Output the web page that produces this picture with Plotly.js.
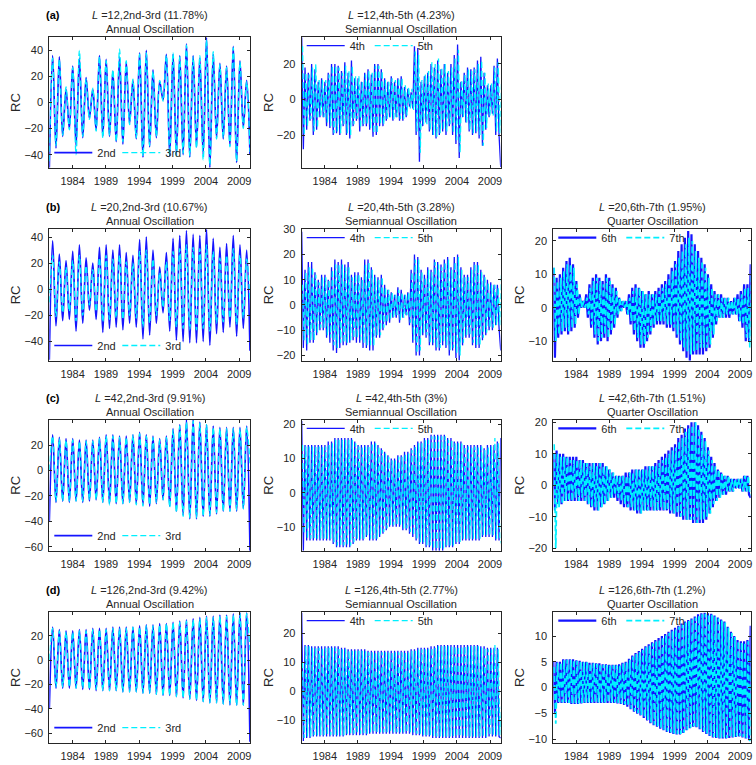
<!DOCTYPE html>
<html><head><meta charset="utf-8">
<script src="https://cdn.plot.ly/plotly-3.0.1.min.js"></script>
<style>html,body{margin:0;padding:0;background:#fff;}#chart{width:756px;height:765px;}</style>
</head><body><div id="chart"></div>
<script>
// ---------------- DATA ----------------
// time span of the reconstructed components (years) and x tick labels
const tStart = 1980.5, tEnd = 2010.62;
const xTicks = [1984, 1989, 1994, 1999, 2004, 2009];

// Successive extremes (half-cycle turning points)
// ---- L = 12 ----
const rc2_L12 = [
-50, 36, -35, 35, -26, 10, -20, 28, -33, 34,
-27, 19, -12, 10, -21, 36, -26, 33, -26, 24,
-30, 35, -32, 31, -16, 17, -28, 38, -42, 40,
-34, 25, -27, 16, 2, 37, -41, 37, -40, 36,
-40, 45, -42, 36, -34, 34, -40, 50, -50, 37,
-27, 30, -28, 28, -33, 43, -46, 32, -19, 17,
-40];
const rc3_L12 = [
-45, 34, -33, 33, -25, 12, -21, 27, -40, 40,
-26, 18, -13, 11, -22, 35, -27, 32, -25, 25,
-30, 41, -30, 32, -17, 18, -27, 37, -41, 38,
-33, 24, -26, 17, 1, 36, -40, 38, -41, 35,
-39, 44, -41, 35, -35, 36, -44, 48, -48, 39,
-28, 29, -27, 27, -34, 42, -45, 31, -20, 16,
-38];
const rc4_L12 = [
35, -28, 18, -17, 15, -12, 20, -20, 17, -17,
10, -10, 12, -10, 10, -15, 15, -16, 20, -20,
20, -19, 19, -20, 16, -15, 21, -20, 15, -22,
22, -15, 12, -12, 12, -18, 10, -15, 15, -15,
17, -17, 14, -21, 20, -20, 20, -15, 17, -15,
12, -12, 10, -10, 13, -12, 10, -10, 12, -12,
13, -12, 7, -10, 6, -4, 4, -5, 30, -20,
29, -35, 10, -15, 13, -13, 15, -18, 20, -20,
18, -22, 22, -20, 17, -18, 20, -20, 15, -15,
20, -20, 25, -25, 31, -33, 10, -10, 15, -13,
18, -18, 17, -20, 18, -19, 22, -22, 24, -26,
15, -17, 8, -10, 8, -8, 19, -20, 23, -20,
-38];
const rc5_L12 = [
30, -20, 15, -15, 14, -11, 18, -18, 20, -16,
11, -9, 11, -10, 11, -13, 14, -15, 19, -19,
19, -18, 18, -19, 15, -14, 19, -19, 16, -20,
19, -14, 13, -11, 13, -16, 10, -14, 14, -14,
16, -16, 15, -19, 19, -19, 19, -14, 16, -14,
11, -11, 10, -10, 12, -11, 11, -10, 12, -11,
12, -11, 8, -9, 7, -5, 6, -6, 27, -18,
25, -30, 11, -14, 14, -14, 16, -17, 21, -20,
20, -21, 23, -19, 18, -17, 20, -18, 16, -14,
18, -19, 23, -23, 28, -30, 11, -10, 14, -13,
17, -17, 16, -19, 17, -18, 20, -20, 22, -26,
15, -16, 9, -9, 9, -9, 18, -18, 21, -19,
10];
// ---- L = 20 ----
const rc2_L20 = [
-54, 37, -28, 27, -24, 22, -23, 29, -32, 34,
-26, 24, -16, 20, -23, 32, -33, 34, -30, 30,
-29, 34, -31, 28, -26, 26, -29, 38, -38, 40,
-35, 30, -26, 17, -18, 28, -32, 39, -39, 41,
-40, 45, -41, 42, -41, 41, -40, 46, -43, 39,
-34, 32, -33, 35, -29, 41, -36, 34, -30, 30,
-47];
const rc3_L20 = [
-10, 26, -21, 21, -18, 17, -17, 22, -24, 26,
-20, 18, -12, 15, -17, 24, -25, 26, -23, 23,
-22, 26, -23, 21, -20, 20, -22, 29, -29, 30,
-26, 23, -20, 13, -14, 21, -24, 29, -29, 31,
-30, 34, -31, 32, -31, 31, -30, 34, -32, 29,
-26, 24, -25, 26, -22, 31, -27, 26, -22, 23,
-10];
const rc4_L20 = [
29, -17, 14, -18, 17, -15, 17, -15, 13, -12,
10, -10, 12, -10, 12, -13, 10, -15, 15, -18,
18, -19, 17, -17, 18, -16, 16, -16, 17, -15,
12, -14, 13, -15, 13, -15, 11, -17, 18, -17,
18, -18, 15, -18, 12, -13, 11, -13, 12, -10,
8, -8, 6, -7, 5, -5, 4, -5, 7, -7,
6, -5, 4, -4, 5, -8, 14, -15, 20, -20,
19, -20, 14, -12, 12, -13, 15, -16, 14, -16,
18, -18, 17, -18, 16, -16, 18, -17, 19, -20,
15, -18, 19, -21, 20, -22, 15, -16, 12, -13,
12, -13, 15, -16, 17, -17, 17, -17, 14, -14,
12, -12, 10, -10, 9, -10, 8, -8, 8, -9,
-18];
const rc5_L20 = [
8, -14, 13, -16, 15, -14, 15, -14, 12, -11,
9, -9, 11, -9, 11, -12, 10, -13, 14, -16,
16, -17, 16, -15, 16, -15, 15, -15, 15, -14,
11, -13, 12, -13, 12, -14, 10, -15, 16, -16,
17, -16, 14, -16, 11, -12, 10, -12, 11, -9,
7, -7, 6, -6, 5, -5, 4, -4, 6, -6,
5, -5, 4, -4, 5, -7, 13, -14, 18, -19,
18, -18, 13, -11, 11, -12, 14, -15, 13, -15,
17, -17, 16, -17, 15, -15, 17, -16, 18, -18,
14, -17, 17, -19, 19, -20, 14, -15, 11, -12,
11, -12, 14, -15, 16, -16, 16, -16, 13, -13,
11, -11, 9, -9, 8, -9, 8, -8, 7, -8,
13];
const rc6_L20 = [
12, -15, 9, -9, 10, -8, 12, -7, 14, -8,
15, -7, 13, -6, 8, -3, 4, 0, 2, 0,
4, -3, 7, -6, 9, -9, 10, -11, 9, -10,
8, -9, 10, -10, 9, -8, 7, -6, 6, -3,
3, -1, 2, 0, 2, -2, 4, -5, 6, -8,
7, -10, 6, -12, 5, -12, 4, -10, 5, -8,
4, -6, 5, -5, 6, -5, 7, -5, 8, -6,
10, -6, 12, -7, 14, -9, 17, -11, 19, -13,
21, -15, 23, -16, 22, -14, 19, -14, 17, -14,
15, -14, 13, -13, 10, -12, 7, -9, 5, -5,
4, -3, 4, -3, 3, -3, 3, -3, 2, -2,
3, -2, 4, -4, 5, -6, 7, -10, 7, -10,
13];
const rc7_L20 = [
12, -10, 8, -8, 9, -7, 11, -6, 13, -7,
13, -6, 12, -5, 7, -2, 3, 0, 2, 0,
3, -2, 6, -5, 8, -8, 9, -10, 8, -9,
7, -8, 9, -9, 8, -7, 6, -5, 5, -2,
3, -1, 2, 0, 2, -2, 3, -4, 5, -7,
6, -9, 6, -11, 5, -11, 4, -9, 4, -7,
4, -5, 4, -4, 5, -4, 6, -4, 7, -5,
9, -5, 11, -6, 13, -8, 15, -10, 17, -12,
19, -13, 21, -14, 20, -13, 17, -13, 15, -12,
14, -12, 12, -12, 9, -11, 6, -8, 4, -4,
4, -3, 3, -3, 3, -2, 3, -2, 2, -2,
3, -2, 3, -4, 4, -5, 6, -9, 6, -12,
10];
// ---- L = 42 ----
const rc2_L42 = [
-40, 28, -25, 26, -24, 25, -25, 25, -24, 24,
-25, 24, -24, 24, -23, 26, -25, 28, -26, 28,
-26, 27, -26, 27, -25, 28, -26, 30, -27, 28,
-28, 27, -26, 25, -23, 27, -28, 33, -32, 36,
-35, 40, -38, 40, -38, 38, -36, 36, -36, 35,
-34, 34, -32, 34, -32, 34, -32, 34, -30, 35,
-63];
const rc3_L42 = [
0, 27, -24, 25, -24, 24, -24, 24, -24, 23,
-24, 23, -23, 23, -23, 25, -25, 27, -27, 27,
-26, 26, -26, 26, -25, 28, -27, 29, -28, 27,
-27, 26, -25, 24, -23, 26, -29, 32, -33, 35,
-36, 38, -37, 39, -37, 37, -36, 36, -35, 34,
-33, 33, -32, 33, -32, 33, -31, 33, -30, 34,
5];
const rc4_L42 = [
21, -17, 14, -14, 14, -14, 14, -14, 14, -14,
14, -14, 14, -14, 14, -14, 15, -14, 15, -15,
16, -16, 16, -16, 16, -16, 16, -16, 16, -16,
16, -15, 15, -14, 14, -14, 14, -14, 14, -13,
14, -14, 15, -14, 15, -14, 14, -13, 13, -12,
12, -11, 11, -10, 10, -10, 10, -10, 11, -10,
11, -11, 12, -11, 12, -12, 13, -13, 14, -14,
15, -15, 15, -15, 16, -16, 16, -16, 17, -17,
17, -17, 17, -17, 17, -17, 17, -16, 16, -16,
16, -16, 15, -15, 15, -15, 15, -14, 14, -14,
14, -14, 14, -14, 14, -14, 14, -14, 14, -13,
13, -13, 14, -13, 14, -13, 14, -14, 15, -14,
16];
const rc5_L42 = [
14, -12, 13.5, -13.5, 13.5, -13.5, 13.5, -13.5, 13.5, -13.5,
13.5, -13.5, 13.5, -13.5, 13.5, -13.5, 14, -13.5, 14.5, -14.5,
15.5, -15.5, 15.5, -15.5, 15.5, -15.5, 15.5, -15.5, 15.5, -15.5,
15.5, -14.5, 14.5, -13.5, 13.5, -13.5, 13.5, -13.5, 13.5, -12.5,
13.5, -13.5, 14.5, -13.5, 14.5, -13.5, 13.5, -12.5, 12.5, -11.5,
11.5, -10.5, 10.5, -9.5, 9.5, -9.5, 9.5, -9.5, 10.5, -9.5,
10.5, -10.5, 11.5, -10.5, 11.5, -11.5, 12.5, -12.5, 13.5, -13.5,
14.5, -14.5, 14.5, -14.5, 15.5, -15.5, 15.5, -15.5, 16.5, -16.5,
16.5, -16.5, 16.5, -16.5, 16.5, -16.5, 16.5, -15.5, 15.5, -15.5,
15.5, -15.5, 14.5, -14.5, 14.5, -14.5, 14.5, -13.5, 13.5, -13.5,
13.5, -13.5, 13.5, -13.5, 13.5, -13.5, 13.5, -13.5, 13.5, -12.5,
12.5, -12.5, 13.5, -12.5, 13.5, -12.5, 16, -13.5, 14.5, -13.5,
-15];
const rc6_L42 = [
10, -8, 11, -6, 10, -6, 10, -5, 9, -5,
9, -5, 9, -5, 9, -5, 8, -5, 8, -5,
7, -6, 7, -7, 7, -8, 7, -8, 7, -7,
7, -6, 6, -5, 5, -4, 4, -4, 3, -5,
3, -6, 3, -7, 4, -7, 4, -8, 5, -8,
5, -9, 5, -9, 5, -8, 6, -8, 6, -8,
6, -8, 7, -8, 8, -8, 9, -8, 10, -8,
11, -9, 12, -9, 13, -10, 15, -10, 16, -11,
18, -11, 19, -11, 20, -12, 20, -12, 19, -12,
17, -12, 15, -11, 12, -9, 9, -7, 7, -5,
5, -4, 4, -3, 3, -3, 3, -2, 2, -2,
2, -1, 2, -1, 2, -2, 3, -2, 3, -3,
-4];
const rc7_L42 = [
13, -20, 10, -7, 9, -6, 9, -5, 9, -5,
8, -5, 8, -4, 8, -5, 8, -4, 7, -5,
7, -6, 6, -7, 7, -7, 6, -8, 7, -7,
6, -6, 6, -5, 5, -4, 4, -3, 3, -4,
3, -5, 3, -6, 3, -7, 4, -7, 4, -8,
5, -8, 5, -9, 5, -8, 5, -8, 6, -7,
6, -8, 6, -8, 7, -7, 8, -8, 9, -8,
10, -8, 11, -9, 12, -9, 14, -10, 15, -10,
17, -11, 18, -11, 19, -11, 20, -12, 18, -11,
16, -11, 14, -10, 11, -9, 8, -6, 6, -5,
5, -4, 4, -3, 3, -2, 3, -2, 2, -2,
2, -1, 2, -1, 2, -2, 3, -2, 3, -3,
-3];
// ---- L = 126 ----
const rc2_L126 = [
-40, 27, -23, 25, -23, 24, -23, 24, -23, 25,
-24, 25, -24, 26, -25, 26, -25, 26, -25, 27,
-25, 27, -26, 27, -26, 27, -26, 28, -27, 29,
-27, 29, -28, 30, -29, 30, -29, 31, -30, 32,
-31, 33, -32, 34, -33, 35, -34, 36, -35, 36,
-35, 37, -36, 37, -37, 38, -37, 39, -37, 39,
-67];
const rc3_L126 = [
0, 26, -22, 24, -22, 23, -22, 23, -23, 24,
-23, 24, -24, 25, -24, 25, -25, 25, -25, 26,
-25, 26, -26, 26, -26, 27, -26, 27, -27, 28,
-27, 28, -28, 29, -29, 30, -29, 31, -30, 31,
-31, 32, -32, 33, -33, 34, -34, 35, -35, 35,
-35, 36, -36, 36, -36, 37, -37, 38, -37, 38,
8];
const rc4_L126 = [
27, -17, 16, -16, 16, -16, 15.5, -15.5, 15.5, -15.5,
15.5, -15.5, 15.5, -15.5, 15.5, -15.5, 15.5, -15.5, 15.5, -15.5,
15.5, -15.5, 15.5, -15.5, 15, -15.5, 15, -15, 14.5, -15,
14.5, -15, 14.5, -15, 14.5, -15, 14.5, -15, 14.5, -15,
14, -14.5, 14, -14.5, 14, -14.5, 14, -14.5, 14, -14.5,
14, -14.5, 14, -14.5, 14, -14.5, 14, -14.5, 14, -14.5,
14, -14.5, 14, -14.5, 14, -14.5, 14.5, -15, 14.5, -15,
15, -15, 15, -15.5, 15, -15.5, 15, -15.5, 15.5, -16,
15.5, -16, 16, -16, 16, -16, 16, -16, 16, -16,
16, -16, 16, -16, 16, -16, 16, -16, 16, -16,
16, -16, 16, -16, 16, -16, 16, -16, 15.5, -16,
15.5, -16, 15, -15.5, 15, -15.5, 15, -15.5, 15, -15.5,
-16];
const rc5_L126 = [
10, -16, 15.5, -15.5, 15.5, -15.5, 15, -15, 15, -15,
15, -15, 15, -15, 15, -15, 15, -15, 15, -15,
15, -15, 15, -15, 14.5, -15, 14.5, -14.5, 14, -14.5,
14, -14.5, 14, -14.5, 14, -14.5, 14, -14.5, 14, -14.5,
13.5, -14, 13.5, -14, 13.5, -14, 13.5, -14, 13.5, -14,
13.5, -14, 13.5, -14, 13.5, -14, 13.5, -14, 13.5, -14,
13.5, -14, 13.5, -14, 13.5, -14, 14, -14.5, 14, -14.5,
14.5, -14.5, 14.5, -15, 14.5, -15, 14.5, -15, 15, -15.5,
15, -15.5, 15.5, -15.5, 15.5, -15.5, 15.5, -15.5, 15.5, -15.5,
15.5, -15.5, 15.5, -15.5, 15.5, -15.5, 15.5, -15.5, 15.5, -15.5,
15.5, -15.5, 15.5, -15.5, 15.5, -15.5, 15.5, -15.5, 15, -15.5,
15, -15.5, 14.5, -15, 14.5, -15, 16, -15, 14.5, -15,
-5];
const rc6_L126 = [
5, -5, 5, -3, 5, -3, 5.5, -3, 5.5, -3,
5.5, -3.2, 5.5, -3.2, 5.3, -3.2, 5.2, -3.1, 5, -3,
5, -3, 4.8, -3, 4.8, -3, 4.7, -3, 4.7, -3,
4.5, -3, 4.5, -3, 4.4, -3, 4.4, -3, 4.4, -3.1,
4.5, -3.2, 4.8, -3.4, 5, -3.7, 5.6, -4.2, 6.2, -4.7,
6.7, -5.1, 7.1, -5.4, 7.5, -5.9, 8, -6.4, 8.4, -6.9,
8.8, -7.3, 9.2, -7.6, 9.6, -8, 10, -8.3, 10.4, -8.6,
10.8, -8.8, 11.2, -9, 11.6, -9.1, 12, -9.1, 12.4, -8.8,
12.8, -8.3, 13.1, -7.9, 13.4, -7.6, 13.8, -7.7, 14.2, -8.1,
14.4, -8.6, 14.5, -9, 14.4, -9.4, 14.3, -9.7, 14, -9.8,
13.6, -9.9, 13.2, -9.9, 12.8, -9.9, 11.8, -9.8, 10.8, -9.7,
10, -9.6, 9.2, -9.5, 9, -9.7, 9, -9.9, 9.2, -10.2,
12];
const rc7_L126 = [
4, -7, 4.8, -2.8, 4.9, -2.9, 5.3, -2.9, 5.4, -3,
5.4, -3.1, 5.4, -3.1, 5.2, -3.1, 5.1, -3, 4.9, -2.9,
4.9, -2.9, 4.7, -2.9, 4.7, -2.9, 4.6, -2.9, 4.6, -2.9,
4.4, -2.9, 4.4, -2.9, 4.3, -2.9, 4.3, -2.9, 4.3, -3,
4.4, -3.1, 4.7, -3.3, 4.9, -3.6, 5.4, -4.1, 6, -4.6,
6.5, -5, 6.9, -5.3, 7.3, -5.8, 7.8, -6.3, 8.2, -6.8,
8.6, -7.2, 9, -7.5, 9.4, -7.9, 9.8, -8.2, 10.2, -8.5,
10.6, -8.7, 11, -8.9, 11.4, -9, 11.8, -9, 12.2, -8.7,
12.6, -8.2, 12.9, -7.8, 13.2, -7.5, 13.6, -7.6, 14, -8,
14.2, -8.5, 14.3, -8.9, 14.2, -9.3, 14.1, -9.6, 13.8, -9.7,
13.4, -9.8, 13, -9.8, 12.6, -9.8, 11.6, -9.7, 10.6, -9.6,
9.8, -9.5, 9, -9.4, 8.8, -9.6, 8.8, -9.8, 9, -10.4,
6];

// labels
const panelTags = ['(a)', '(b)', '(c)', '(d)'];
const windowLengths = [12, 20, 42, 126];
const pctAnnual = ['11.78%', '10.67%', '9.91%', '9.42%'];
const pctSemi = ['4.23%', '3.28%', '3%', '2.77%'];
const pctQuarter = [null, '1.95%', '1.51%', '1.2%'];
const kindNames = ['Annual Oscillation', 'Semiannual Oscillation', 'Quarter Oscillation'];
const pairLabels = ['2nd-3rd', '4th-5th', '6th-7th'];
const seriesNames = [['2nd', '3rd'], ['4th', '5th'], ['6th', '7th']];
const seriesData = [
  [[rc2_L12, rc3_L12], [rc4_L12, rc5_L12], null],
  [[rc2_L20, rc3_L20], [rc4_L20, rc5_L20], [rc6_L20, rc7_L20]],
  [[rc2_L42, rc3_L42], [rc4_L42, rc5_L42], [rc6_L42, rc7_L42]],
  [[rc2_L126, rc3_L126], [rc4_L126, rc5_L126], [rc6_L126, rc7_L126]]
];

// ---------------- LAYOUT / STYLE ----------------
const W = 756, H = 765;
const FONT = 'Liberation Sans, Arial, Helvetica, sans-serif';
const TXT = '#262626';
const BLUE = '#1414ff', CYAN = '#00f0ff';
const colX = [[49.3, 250], [301.7, 500.7], [553.3, 750.7]];
const rowY = [[37.3, 167.7], [229.3, 360.5], [420, 550.7], [612.3, 742.7]];
const yRanges = [
  [[-50, 50], [-38.4, 35], null],
  [[-54.5, 45.9], [-22, 30], [-15.8, 23.5]],
  [[-63, 39.7], [-17, 21.3], [-20.8, 20.7]],
  [[-67.7, 39.2], [-17.6, 27.2], [-10.7, 14.6]]
];
const yDticks = [[20, 20, null], [20, 10, 10], [20, 10, 10], [20, 10, 5]];
const cyanLag = [0, 0.125, 0.125];
const lineShape = ['spline', 'linear', 'linear'];
const blueWidth = [1.7, 1.3, 2.2];
const cyanWidth = [1.3, 1.3, 1.8];

const traces = [];
const layout = {
  width: W, height: H, margin: {l: 0, r: 0, t: 0, b: 0},
  paper_bgcolor: '#fff', plot_bgcolor: '#fff',
  font: {family: FONT, size: 11, color: TXT},
  showlegend: true, annotations: []
};
const px2x = p => p / W, px2y = p => 1 - p / H;
function grid(arr, off) {
  const n = arr.length;
  return arr.map((_, i) => tStart + i * (tEnd - tStart) / (n - 1) + off);
}

let k = 0;
for (let r = 0; r < 4; r++) {
  for (let c = 0; c < 3; c++) {
    const d = seriesData[r][c];
    if (!d) continue;
    k++;
    const sfx = k === 1 ? '' : String(k);
    const xr = 'x' + sfx, yr = 'y' + sfx, lg = 'legend' + sfx;
    traces.push({
      type: 'scatter', mode: 'lines', x: grid(d[0], 0), y: d[0],
      xaxis: xr, yaxis: yr, legend: lg, name: seriesNames[c][0],
      line: {color: BLUE, width: blueWidth[c], shape: lineShape[c]}, hoverinfo: 'skip'
    });
    traces.push({
      type: 'scatter', mode: 'lines', x: grid(d[1], cyanLag[c]), y: d[1],
      xaxis: xr, yaxis: yr, legend: lg, name: seriesNames[c][1],
      line: {color: CYAN, width: cyanWidth[c], dash: '6px,3px', shape: lineShape[c]}, hoverinfo: 'skip'
    });
    layout['xaxis' + sfx] = {
      domain: [px2x(colX[c][0]), px2x(colX[c][1])], anchor: yr,
      range: [tStart, tEnd], tickmode: 'array', tickvals: xTicks, ticktext: xTicks.map(String),
      ticks: 'inside', ticklen: 3, tickcolor: TXT, mirror: 'ticks', showline: true,
      linecolor: TXT, linewidth: 1, showgrid: false, zeroline: false,
      tickfont: {family: FONT, size: 11, color: TXT}, ticklabelstandoff: 3
    };
    layout['yaxis' + sfx] = {
      domain: [px2y(rowY[r][1]), px2y(rowY[r][0])], anchor: xr,
      range: yRanges[r][c], tick0: 0, dtick: yDticks[r][c],
      ticks: 'inside', ticklen: 3, tickcolor: TXT, mirror: 'ticks', showline: true,
      linecolor: TXT, linewidth: 1, showgrid: false, zeroline: false,
      tickfont: {family: FONT, size: 11, color: TXT}, ticklabelstandoff: 3,
      title: {text: 'RC', font: {family: FONT, size: 13, color: TXT}, standoff: 0}
    };
    const bottom = (c === 0);
    const legYpx = bottom ? rowY[r][1] - 15 : rowY[r][0] + 8.4;
    layout[lg] = {
      orientation: 'h', x: px2x(colX[c][0]), xanchor: 'left',
      y: px2y(legYpx), yanchor: 'middle', bgcolor: 'rgba(0,0,0,0)', borderwidth: 0,
      font: {family: FONT, size: 11, color: TXT}, itemwidth: 38, entrywidth: 15, itemclick: false
    };
    const cx = px2x((colX[c][0] + colX[c][1]) / 2);
    const pct = c === 0 ? pctAnnual[r] : (c === 1 ? pctSemi[r] : pctQuarter[r]);
    layout.annotations.push({
      xref: 'paper', yref: 'paper', x: cx, y: px2y(rowY[r][0] - 22), xanchor: 'center', yanchor: 'middle',
      showarrow: false, text: '<i>L</i> =' + windowLengths[r] + ',' + pairLabels[c] + ' (' + pct + ')',
      font: {family: FONT, size: 11, color: TXT}
    });
    layout.annotations.push({
      xref: 'paper', yref: 'paper', x: cx, y: px2y(rowY[r][0] - 8.5), xanchor: 'center', yanchor: 'middle',
      showarrow: false, text: kindNames[c], font: {family: FONT, size: 11, color: TXT}
    });
    if (c === 0) {
      layout.annotations.push({
        xref: 'paper', yref: 'paper', x: px2x(52.5), y: px2y(rowY[r][0] - 22), xanchor: 'center', yanchor: 'middle',
        showarrow: false, text: '<b>' + panelTags[r] + '</b>', font: {family: FONT, size: 11, color: '#000'}
      });
    }
  }
}
Plotly.newPlot('chart', traces, layout, {staticPlot: true, displayModeBar: false});
</script>
</body></html>
